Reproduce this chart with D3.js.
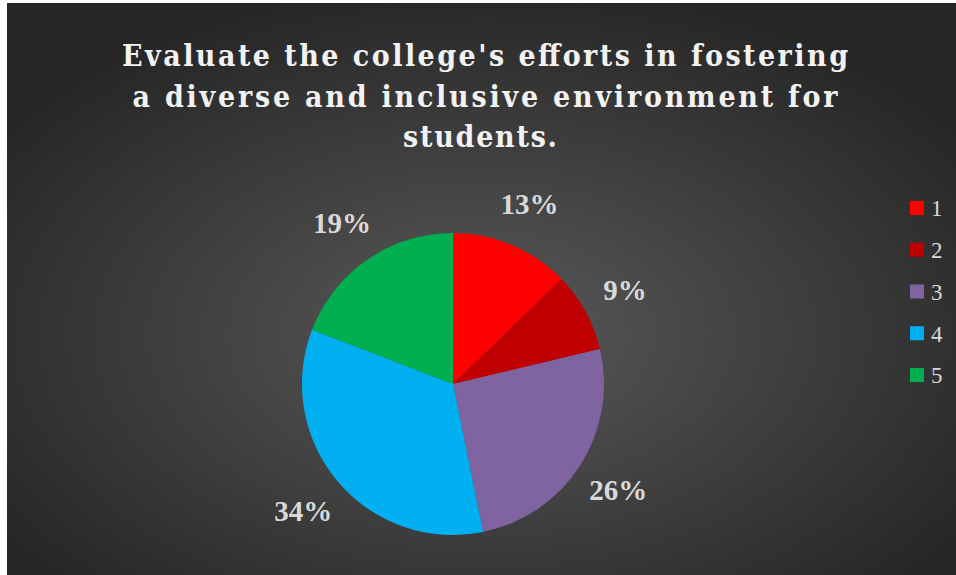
<!DOCTYPE html>
<html><head><meta charset="utf-8">
<script src="https://cdn.jsdelivr.net/npm/d3@7"></script>
<style>html,body{margin:0;padding:0;background:#fff;}svg{display:block;}</style>
</head><body>
<script>
const categories = ["1","2","3","4","5"];
const values = [6, 4, 12, 16, 9];
const colors = ["#FF0000","#C00000","#8064A2","#00B0F0","#00B050"];
const titleLines = ["Evaluate the college's efforts in fostering","a diverse and inclusive environment for","students."];

const W = 956, H = 575;
const svg = d3.select("body").append("svg").attr("width", W).attr("height", H);
const defs = svg.append("defs");
const grad = defs.append("radialGradient").attr("id","bg")
  .attr("cx","50%").attr("cy","58%").attr("r","62%");
grad.append("stop").attr("offset","0%").attr("stop-color","#5a5a5a");
grad.append("stop").attr("offset","100%").attr("stop-color","#262626");

svg.append("rect").attr("x",7).attr("y",3).attr("width",W-7).attr("height",H-3).attr("fill","url(#bg)");

// title
const titleWidths = [726, 705, 154];
const titleX = [485, 485, 480];
const title = svg.append("g");
titleLines.forEach((t,i)=>{
  title.append("text").attr("x", titleX[i]).attr("y", 66 + i*40.5)
    .attr("text-anchor","middle")
    .attr("font-family","'DejaVu Serif', serif").attr("font-weight","bold")
    .style("font-stretch","condensed")
    .attr("font-size", 30).attr("fill","#f2f2f2")
    .attr("textLength", titleWidths[i]).attr("lengthAdjust","spacing")
    .text(t);
});

// pie
const cx = 453, cy = 384, r = 151;
const pie = d3.pie().sort(null).value(d=>d)(values);
const arc = d3.arc().innerRadius(0).outerRadius(r);
const g = svg.append("g").attr("transform",`translate(${cx},${cy})`);
g.selectAll("path").data(pie).join("path").attr("d",arc).attr("fill",(d,i)=>colors[i]);

const total = d3.sum(values);
const labelArc = d3.arc().innerRadius(196).outerRadius(196);
g.selectAll("text.lbl").data(pie).join("text").attr("class","lbl")
  .attr("transform", d=>{const c = labelArc.centroid(d); return `translate(${c[0]},${c[1]})`;})
  .attr("text-anchor","middle").attr("dy","0.35em")
  .attr("font-family","'Liberation Serif', serif").attr("font-weight","bold")
  .attr("font-size", 29).attr("fill","#d9d9d9")
  .text(d=>Math.round(d.data/total*100)+"%");

// legend
const ly = d3.scalePoint().domain(categories).range([208, 375]);
const leg = svg.append("g");
categories.forEach((c,i)=>{
  leg.append("rect").attr("x",910).attr("y",ly(c)-7).attr("width",14).attr("height",14).attr("fill",colors[i]);
  leg.append("text").attr("x",931).attr("y",ly(c)).attr("dy","0.36em")
    .attr("font-family","'Liberation Serif', serif").attr("font-size",23).attr("fill","#d9d9d9").text(c);
});
</script>
</body></html>
